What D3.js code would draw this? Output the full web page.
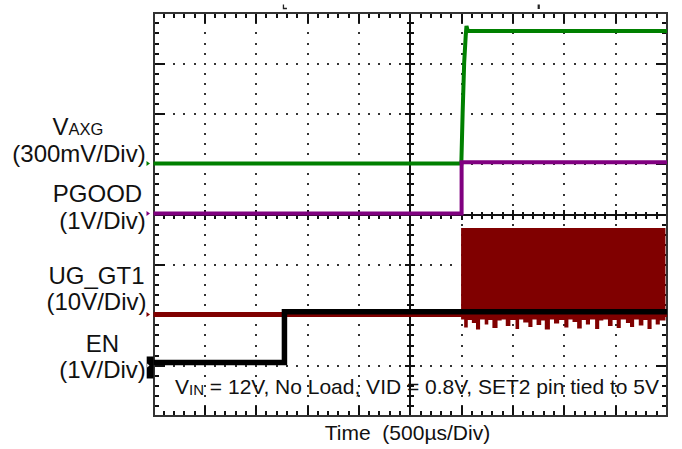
<!DOCTYPE html>
<html><head><meta charset="utf-8">
<script src="https://cdn.jsdelivr.net/npm/d3@7"></script>
<style>
html,body{margin:0;padding:0;background:#fff;}
svg{display:block;font-family:Arial,"Liberation Sans",sans-serif;}
text{white-space:pre;}
</style></head>
<body><svg id="c" width="682" height="449"></svg>
<script>
// ---- data (time in divisions, 500us/div; values in volts) ----
const timeDivs = 10, voltDivs = 8;
// VAXG (300mV/div)
const vaxgT = [0, 5.995, 6.02, 6.05, 6.08, 6.095, 6.12, 10];
const vaxgV = [0, 0, 0.30, 0.60, 0.76, 0.82, 0.79, 0.79];
// PGOOD (1V/div)
const pgoodT = [0, 6.0, 6.0, 10];
const pgoodV = [0, 0, 1.02, 1.02];
// UG_GT1 (10V/div) baseline and switching envelope
const ugT = [0, 10];
const ugV = [0, 0];
const ugSwTop = 17.2;
const ugSwBottomT = [5.99,6.05,6.12,6.2,6.28,6.36,6.45,6.52,6.6,6.7,6.78,6.86,6.95,7.05,7.12,7.2,7.3,7.38,7.46,7.55,7.62,7.72,7.8,7.9,8.0,8.08,8.16,8.25,8.34,8.42,8.5,8.6,8.68,8.76,8.85,8.94,9.02,9.1,9.2,9.28,9.36,9.45,9.54,9.62,9.7,9.78,9.86,9.97];
const ugSwBottomV = [-1.0,-2.6,-1.1,-1.7,-3.0,-1.0,-2.0,-1.1,-2.7,-1.2,-1.0,-2.3,-1.1,-2.9,-1.0,-1.6,-2.5,-1.0,-2.1,-1.2,-3.0,-1.0,-1.8,-1.1,-2.6,-1.0,-1.5,-2.8,-1.1,-2.0,-1.0,-2.9,-1.2,-1.0,-2.3,-1.1,-2.7,-1.0,-1.7,-2.5,-1.0,-2.2,-1.1,-2.9,-1.0,-2.0,-1.2,-1.0];
// EN (1V/div)
const enT = [0, 2.55, 2.55, 10];
const enV = [0, 0, 1.01, 1.01];

const labelsLeft = [
  {main:"V", sub:"AXG", scale:"(300mV/Div)"},
  {main:"PGOOD", sub:"", scale:"(1V/Div)"},
  {main:"UG_GT1", sub:"", scale:"(10V/Div)"},
  {main:"EN", sub:"", scale:"(1V/Div)"}
];
const xTitle = "Time  (500\u00B5s/Div)";
const noteMain = "V", noteSub = "IN", noteRest = " = 12V, No Load, VID = 0.8V, SET2 pin tied to 5V";

// ---- channel setup ----
const channels = [
  {color:"#008000", offset:1.016, vpd:0.3, t:vaxgT, v:vaxgV, w:4},
  {color:"#800080", offset:0.023, vpd:1, t:pgoodT, v:pgoodV, w:4},
  {color:"#800000", offset:-1.983, vpd:10, t:ugT, v:ugV, w:5},
  {color:"#000000", offset:-2.937, vpd:1, t:enT, v:enV, w:5.5}
];

const svg = d3.select("#c");
const L=153.5, R=667, T=13.3, B=416;
const xs = d3.scaleLinear().domain([0,timeDivs]).range([L,R]);
const ys = d3.scaleLinear().domain([-voltDivs/2,voltDivs/2]).range([B,T]);
const gridCol = "#111";

const minorX = d3.range(0, timeDivs+0.001, 0.2);
const minorY = d3.range(-voltDivs/2, voltDivs/2+0.001, 0.2);
const isMajor = v => Math.abs(v-Math.round(v))<1e-6;
const px = v => Math.round(v);

// dotted grid
const g = svg.append("g").attr("fill","#333").attr("shape-rendering","crispEdges");
for (let k=1;k<timeDivs;k++){ if(k===5) continue;
  g.selectAll(null).data(minorY).join("rect").attr("x",px(xs(k))-1).attr("y",d=>px(ys(d))-1).attr("width",1.5).attr("height",1.5);
}
for (let k=-3;k<=3;k++){ if(k===0) continue;
  g.selectAll(null).data(minorX).join("rect").attr("x",d=>px(xs(d))-1).attr("y",px(ys(k))-1).attr("width",1.5).attr("height",1.5);
}

// ticks (filled rects, crisp)
const tk = svg.append("g").attr("fill",gridCol).attr("shape-rendering","crispEdges");
function hTicks(yBase, dir, minorLen, majorLen){
  tk.selectAll(null).data(minorX).join("rect")
    .attr("x",d=>px(xs(d))-1).attr("width",2)
    .attr("y",d=>{const l=isMajor(d)?majorLen:minorLen; return dir>0?px(yBase):px(yBase)-l;})
    .attr("height",d=>isMajor(d)?majorLen:minorLen);
}
function vTicks(xBase, dir, minorLen, majorLen){
  tk.selectAll(null).data(minorY).join("rect")
    .attr("y",d=>px(ys(d))-1).attr("height",2)
    .attr("x",d=>{const l=isMajor(d)?majorLen:minorLen; return dir>0?px(xBase):px(xBase)-l;})
    .attr("width",d=>isMajor(d)?majorLen:minorLen);
}
hTicks(T, 1, 5, 10);
hTicks(B, -1, 5, 10);
vTicks(L, 1, 5, 11);
vTicks(R, -1, 5, 11);
hTicks(ys(0), 1, 3.5, 5);
hTicks(ys(0), -1, 3.5, 5);
vTicks(xs(5), 1, 3.5, 5);
vTicks(xs(5), -1, 3.5, 5);
svg.append("line").attr("x1",L).attr("x2",R).attr("y1",px(ys(0))).attr("y2",px(ys(0))).attr("stroke",gridCol).attr("stroke-width",1.5).attr("shape-rendering","crispEdges");
svg.append("line").attr("x1",px(xs(5))).attr("x2",px(xs(5))).attr("y1",T).attr("y2",B).attr("stroke",gridCol).attr("stroke-width",1.5).attr("shape-rendering","crispEdges");
// frame
svg.append("rect").attr("x",L).attr("y",T).attr("width",R-L).attr("height",B-T).attr("fill","none").attr("stroke","#333").attr("stroke-width",2).attr("shape-rendering","crispEdges");

// top markers
svg.append("path").attr("d",`M${xs(2.55)-1},4.5 V8.5 H${xs(2.55)+2.5}`).attr("stroke","#222").attr("stroke-width",1.3).attr("fill","none");
svg.append("rect").attr("x",xs(7.5)-1).attr("y",4.5).attr("width",2.2).attr("height",4.5).attr("fill","#222");

// traces
const yOf = (ch,v)=> ys(ch.offset + v/ch.vpd);
const line = ch => d3.line().x((d,i)=>xs(ch.t[i])).y((d,i)=>yOf(ch,ch.v[i]));
[channels[0], channels[1]].forEach(ch=>{
  svg.append("path").attr("d",line(ch)(ch.t)).attr("fill","none").attr("stroke",ch.color).attr("stroke-width",ch.w);
});
// red switching envelope
const ug = channels[2];
const envTop = ugSwBottomT.map(t=>[t, ugSwTop]);
const area = d3.area().curve(d3.curveStepAfter).x(d=>xs(d[0])).y0((d,i)=>yOf(ug, ugSwBottomV[i])).y1(d=>yOf(ug,d[1]));
svg.append("path").attr("d",area(envTop)).attr("fill",ug.color);
svg.append("path").attr("d",line(ug)(ug.t)).attr("fill","none").attr("stroke",ug.color).attr("stroke-width",ug.w);
// black EN
const en = channels[3];
svg.append("path").attr("d",line(en)(en.t)).attr("fill","none").attr("stroke",en.color).attr("stroke-width",en.w);

// channel markers
channels.slice(0,3).forEach(ch=>{
  const y0 = yOf(ch,0);
  svg.append("path").attr("d",`M146.5,${y0-2.5} L150,${y0} L146.5,${y0+2.5} Z`).attr("fill",ch.color);
});
svg.append("rect").attr("x",146.7).attr("y",yOf(en,0)-6).attr("width",6.8).attr("height",22).attr("fill","#000");
svg.append("path").attr("d",`M147.2,${yOf(en,0)+1} L149.5,${yOf(en,0)+3} L147.2,${yOf(en,0)+5} Z`).attr("fill","#fff");

// left labels
const lab = svg.append("g").attr("font-size",24).attr("fill","#111").attr("text-anchor","middle");
const leftPos = [
  {cx1:78, b1:135, cx2:79, b2:162},
  {cx1:97.5, b1:202, cx2:102.5, b2:229},
  {cx1:96.5, b1:284, cx2:96.5, b2:310},
  {cx1:102.5, b1:352, cx2:102.5, b2:378}
];
labelsLeft.forEach((l,i)=>{
  const p = leftPos[i];
  const t = lab.append("text").attr("x",p.cx1).attr("y",p.b1);
  t.append("tspan").text(l.main);
  if (l.sub) t.append("tspan").attr("font-size",16.5).text(l.sub);
  lab.append("text").attr("x",p.cx2).attr("y",p.b2).text(l.scale);
});
// x title
svg.append("text").attr("x",407.5).attr("y",440).attr("text-anchor","middle").attr("font-size",21).attr("fill","#111").text(xTitle);
// note
const note = svg.append("text").attr("x",175).attr("y",394).attr("font-size",21).attr("fill","#111");
note.append("tspan").text(noteMain);
note.append("tspan").attr("font-size",15).attr("dy",1).text(noteSub);
note.append("tspan").attr("dy",-1).text(noteRest);
</script></body></html>
